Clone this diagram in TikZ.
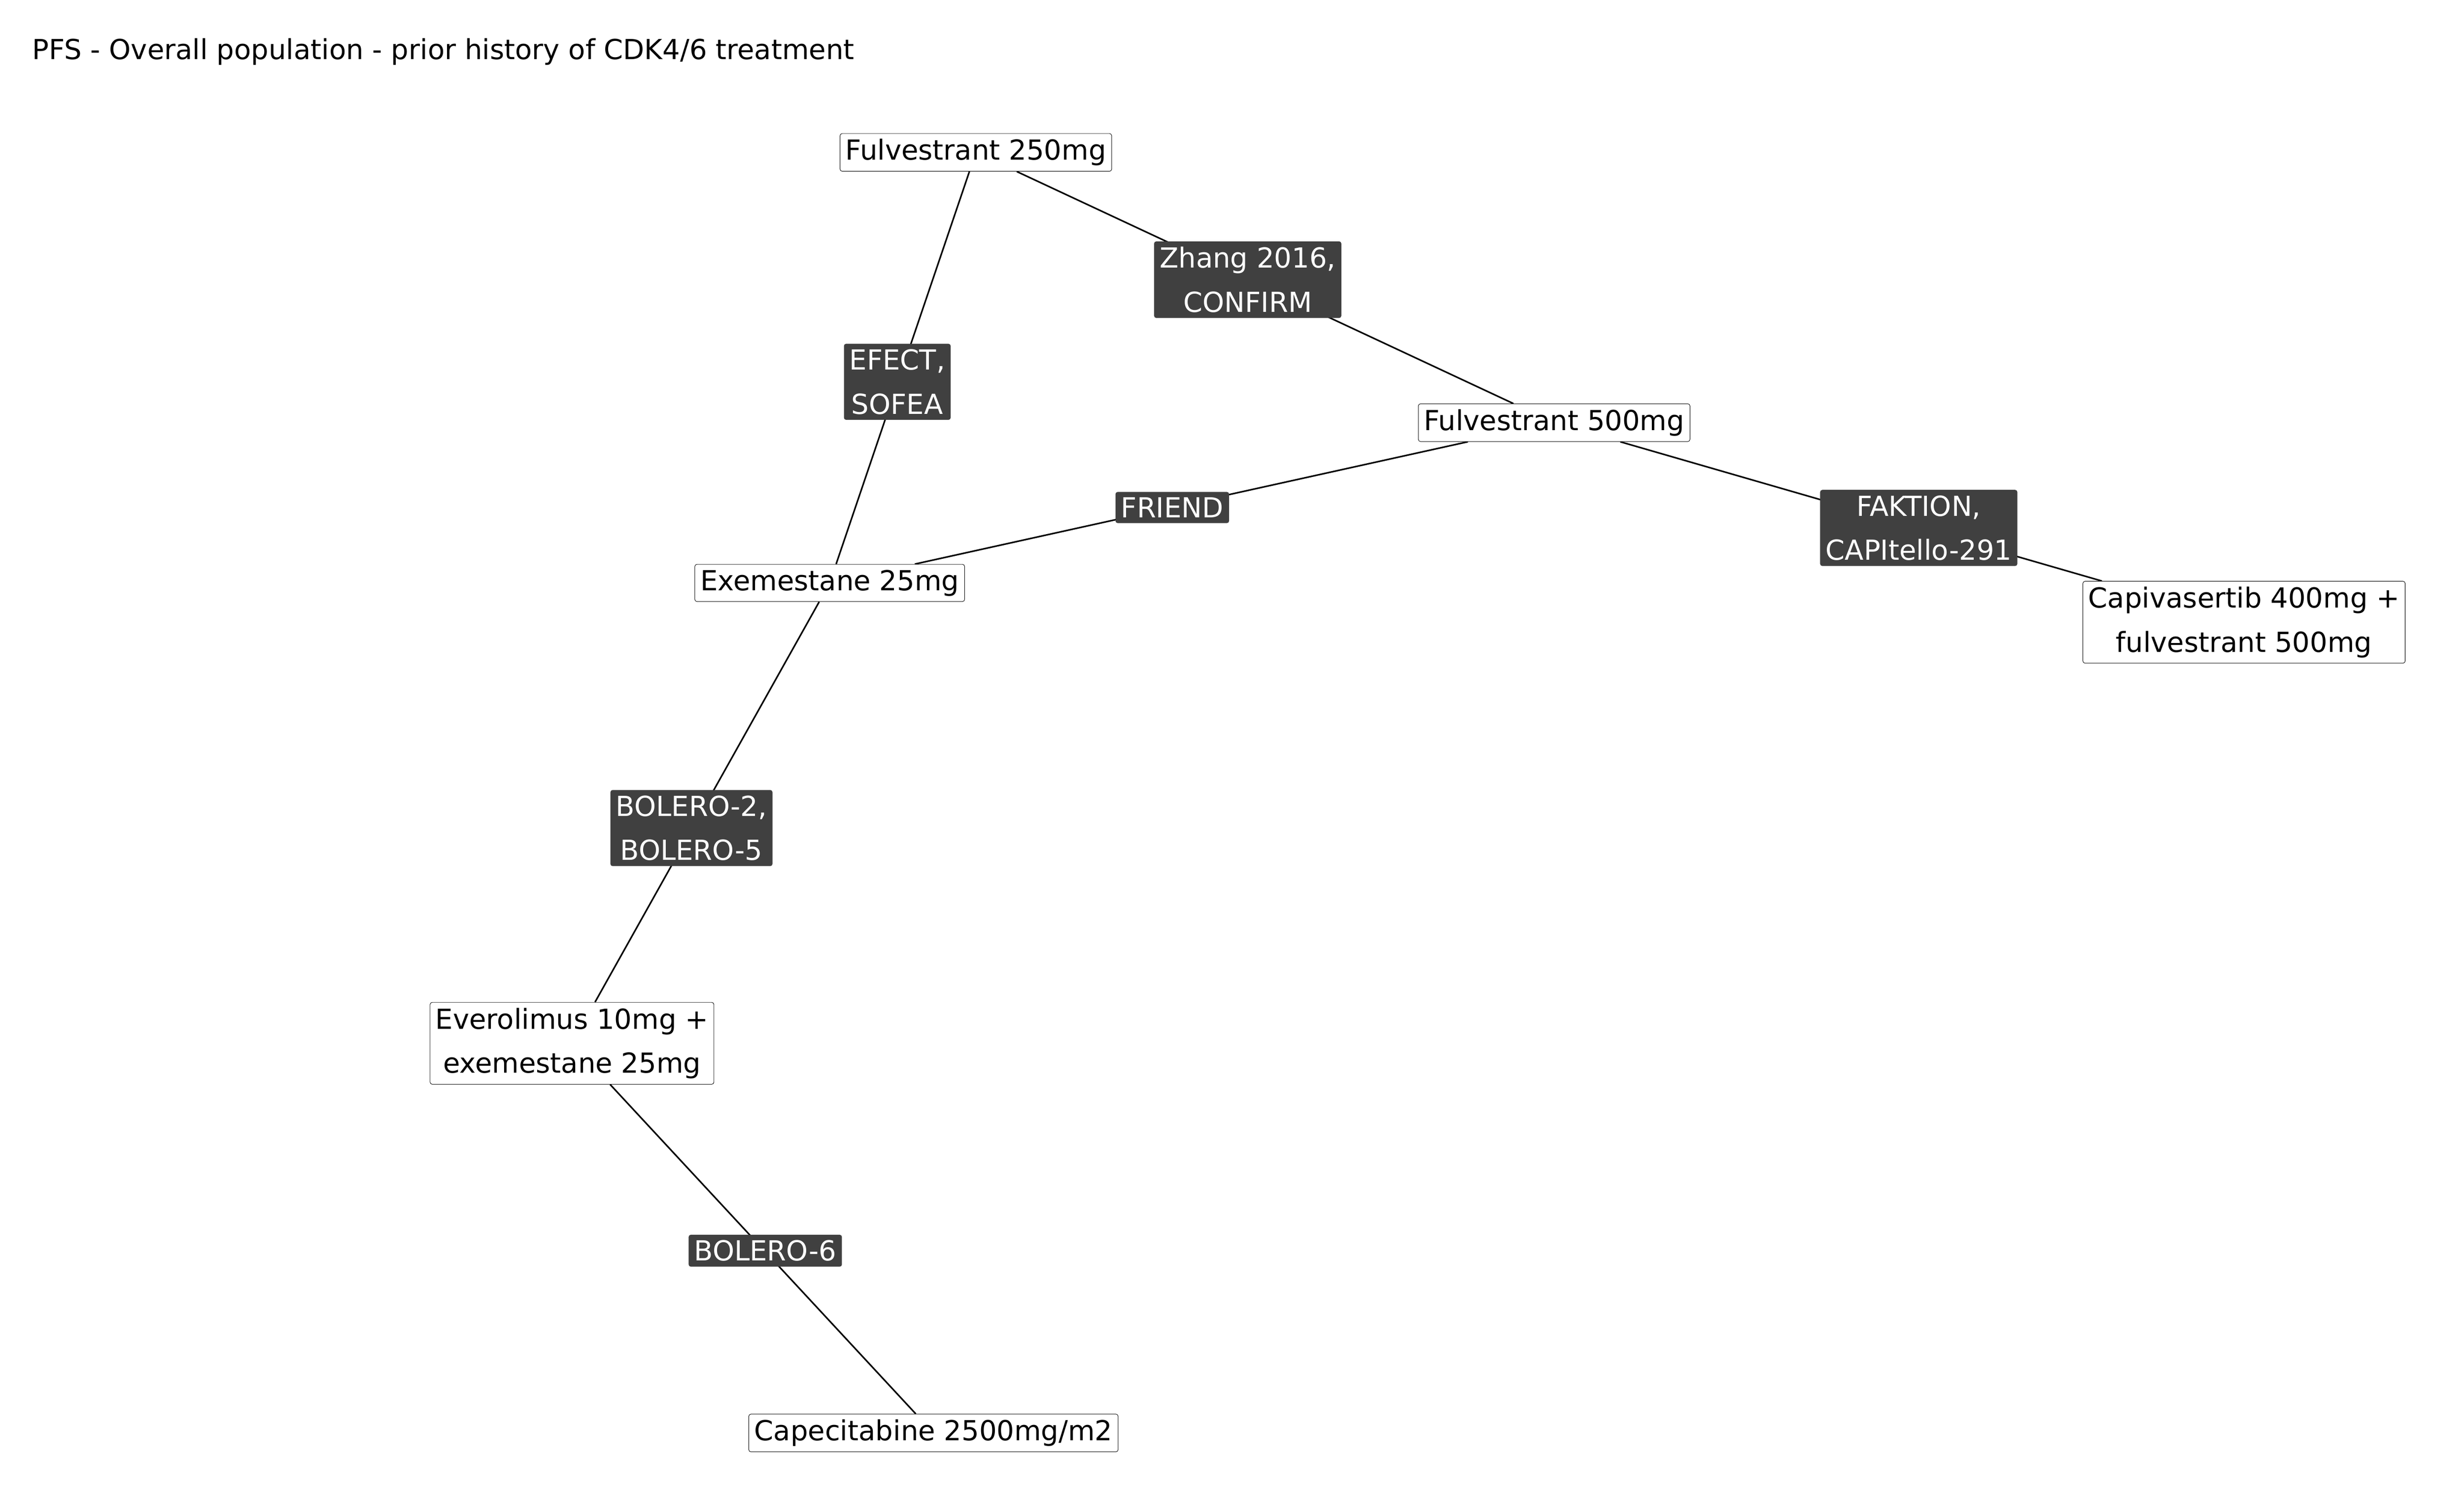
\documentclass[tikz,border=0pt]{standalone}
\usepackage{fontspec}
\setmainfont{DejaVu Sans}
\usetikzlibrary{backgrounds}
\begin{document}
\begin{tikzpicture}[x=0.05cm, y=-0.05cm]
\tikzset{ treat/.style={draw=black, fill=white, rounded corners=2pt, inner sep=5pt, align=center, font=\fontsize{25}{40}\selectfont},
          trial/.style={fill=black!75, text=white, rounded corners=2pt, inner sep=5pt, align=center, font=\fontsize{25}{40}\selectfont},
          link/.style={line width=1.4pt} }

\useasboundingbox (0,0) rectangle (1568,950);

\node [anchor=west, font=\fontsize{25}{30}\selectfont] (title) at (18,33) {PFS - Overall population - prior history of CDK4/6 treatment};

\node [treat] (F250) at (621,97)  {Fulvestrant 250mg};
\node [treat] (F500) at (989,269) {Fulvestrant 500mg};
\node [treat] (EXE)  at (528,371) {Exemestane 25mg};
\node [treat] (CAPI) at (1428,396) {Capivasertib 400mg +\\ fulvestrant 500mg};
\node [treat] (EVE)  at (364,664) {Everolimus 10mg +\\ exemestane 25mg};
\node [treat] (CAPE) at (594,912) {Capecitabine 2500mg/m2};

\node [trial] (ZHANG) at (794,178) {Zhang 2016,\\CONFIRM};
\node [trial] (EFECT) at (571,243) {EFECT,\\SOFEA};
\node [trial] (FRIEND) at (746,323) {FRIEND};
\node [trial] (FAKTION) at (1221,336) {FAKTION,\\CAPItello-291};
\node [trial] (BOL2) at (440,527) {BOLERO-2,\\BOLERO-5};
\node [trial] (BOL6) at (487,796) {BOLERO-6};

\begin{scope}[on background layer]
\draw [link] (F250) -- (F500);
\draw [link] (F250) -- (EXE);
\draw [link] (EXE)  -- (F500);
\draw [link] (F500) -- (CAPI);
\draw [link] (EXE)  -- (EVE);
\draw [link] (EVE)  -- (CAPE);
\end{scope}

\end{tikzpicture}
\end{document}
